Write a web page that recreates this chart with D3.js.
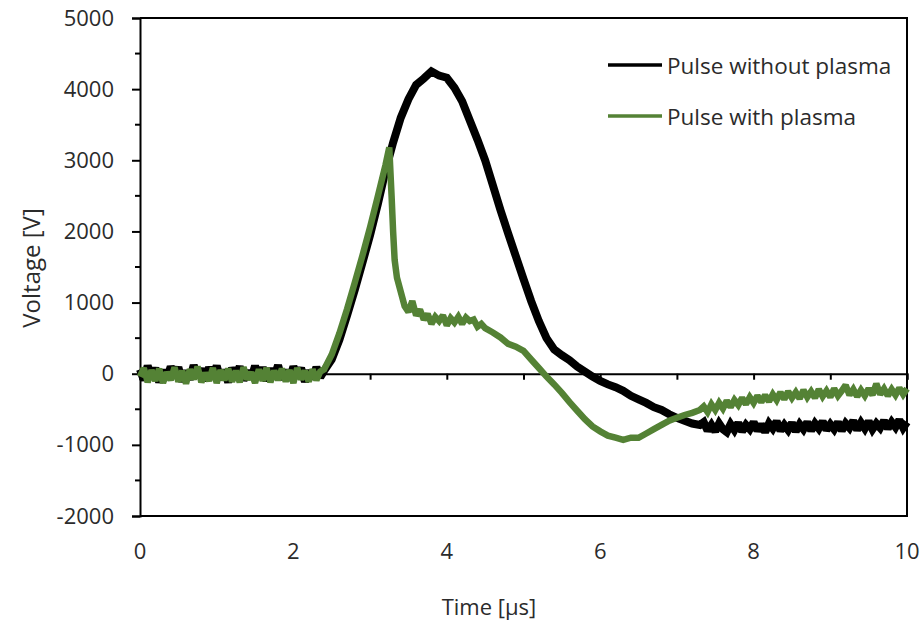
<!DOCTYPE html>
<html>
<head>
<meta charset="utf-8">
<script src="https://cdn.jsdelivr.net/npm/d3@7"></script>
<style>
  html, body { margin: 0; padding: 0; background: #fff; }
  svg { display: block; }
  text { font-family: "Open Sans", "Liberation Sans", sans-serif; fill: #2b2b2b; }
</style>
</head>
<body>
<svg id="chart" width="923" height="626"></svg>
<script>
// ---------- data ----------
const seriesNames = ["Pulse without plasma", "Pulse with plasma"];

// sampling grid helper (time axis only)
const grid = (start, step, n) => d3.range(n).map(i => +(start + i * step).toFixed(2));

// --- Pulse without plasma ---
// baseline 0 .. 2.35 µs (step 0.05)
const voltNoPlasmaBase = [
  60,-90,110,-40,80,-120,50,-70,100,-30,
  90,-110,40,-80,120,-50,70,-100,90,-40,
  110,-80,50,-120,80,-30,100,-90,40,-70,
  110,-60,90,-100,70,-40,120,-80,50,-90,
  100,-30,80,-110,40,-70,90,-50
];
// pulse 2.4 .. 7.3 µs (step 0.1)
const voltNoPlasmaPulse = [
  40,200,480,820,1180,1560,1950,2380,2850,3250,
  3600,3860,4060,4150,4250,4190,4160,4020,3830,3560,
  3290,3000,2650,2300,1970,1650,1330,1020,740,500,
  340,260,190,100,30,-40,-100,-150,-190,-240,
  -310,-360,-410,-470,-510,-570,-620,-660,-700,-720
];
// tail 7.35 .. 10 µs (step 0.05)
const voltNoPlasmaTail = [
  -680,-800,-720,-810,-700,-780,-820,-710,-790,-690,
  -810,-720,-780,-680,-800,-710,-820,-700,-770,-670,
  -800,-720,-790,-690,-810,-710,-780,-680,-800,-700,
  -770,-670,-790,-710,-780,-680,-800,-700,-760,-660,
  -790,-690,-770,-670,-780,-700,-760,-660,-770,-680,
  -750,-650,-760,-680
];

// --- Pulse with plasma ---
const voltPlasmaBase = [
  -40,80,-120,50,-100,70,-130,20,-90,90,
  -110,40,-140,60,-80,100,-120,10,-100,80,
  -130,50,-90,70,-110,40,-120,90,-80,20,
  -130,60,-100,80,-120,40,-90,70,-110,50,
  -130,80,-80,40,-110,60,-90,30
];
const timePlasmaPulse = [
  2.4,2.5,2.6,2.7,2.8,2.9,3.0,3.1,3.2,
  3.25,3.28,3.3,3.32,3.35,3.4,3.45,3.5,3.55,3.6,
  3.65,3.7,3.75,3.8,3.85,3.9,3.95,4.0,4.05,4.1,
  4.15,4.2,4.25,4.3,4.35,4.4,4.45,4.5,
  4.6,4.7,4.8,4.9,5.0,5.1,5.2,5.3,5.4,5.5,
  5.6,5.7,5.8,5.9,6.0,6.1,6.2,6.3,6.4,6.5,
  6.6,6.7,6.8,6.9,7.0,7.1,7.2,7.3
];
const voltPlasmaPulse = [
  60,270,570,910,1280,1660,2060,2490,2930,
  3180,2500,2000,1600,1350,1150,950,870,1020,820,
  900,760,840,700,800,740,820,680,780,720,
  800,700,790,740,760,660,700,640,
  580,510,420,380,320,200,80,-40,-150,-270,
  -400,-520,-640,-740,-810,-870,-900,-930,-900,-900,
  -840,-780,-720,-660,-620,-580,-550,-510
];
const voltPlasmaTail = [
  -460,-540,-430,-510,-410,-490,-380,-470,-370,-440,
  -340,-430,-330,-410,-310,-400,-300,-390,-290,-370,
  -260,-360,-250,-340,-260,-350,-230,-330,-250,-340,
  -220,-320,-240,-330,-210,-310,-240,-160,-300,-220,
  -320,-230,-310,-210,-300,-140,-290,-210,-310,-220,
  -300,-200,-290,-210
];

const xTickLabels = [0, 2, 4, 6, 8, 10];
const yTickLabels = [5000, 4000, 3000, 2000, 1000, 0, -1000, -2000];
const xTitle = "Time [µs]";
const yTitle = "Voltage [V]";

// assemble series
const tBase = grid(0, 0.05, 48), tPulse = grid(2.4, 0.1, 50), tTail = grid(7.35, 0.05, 54);
const timeNoPlasma = tBase.concat(tPulse, tTail);
const voltNoPlasma = voltNoPlasmaBase.concat(voltNoPlasmaPulse, voltNoPlasmaTail);
const timePlasma = tBase.concat(timePlasmaPulse, tTail);
const voltPlasma = voltPlasmaBase.concat(voltPlasmaPulse, voltPlasmaTail);

// ---------- layout ----------
const svg = d3.select("#chart");
const L = 140, R = 907, T = 18, B = 516;
const x = d3.scaleLinear().domain([0, 10]).range([L, R]);
const y = d3.scaleLinear().domain([-2000, 5000]).range([B, T]);
const colors = ["#000000", "#548235"];

// plot border (top, right, bottom)
svg.append("path")
  .attr("d", `M${L},${T}H${R}V${B}H${L}`)
  .attr("fill", "none").attr("stroke", "#000").attr("stroke-width", 2);

// left axis with major + minor ticks
const yAxis = d3.axisLeft(y).tickValues(yTickLabels).tickSize(8).tickPadding(18)
  .tickFormat(d => String(d));
const gy = svg.append("g").attr("transform", `translate(${L},0)`).call(yAxis);
gy.select(".domain").attr("stroke-width", 2);
gy.selectAll(".tick line").attr("stroke-width", 2);
gy.selectAll(".tick text").style("font-size", "22px").attr("fill", "#2b2b2b")
  .style("font-family", '"Open Sans", sans-serif');
const minorY = d3.range(-1500, 5000, 1000);
svg.append("g").selectAll("line").data(minorY).join("line")
  .attr("x1", L - 5).attr("x2", L).attr("y1", d => y(d)).attr("y2", d => y(d))
  .attr("stroke", "#000").attr("stroke-width", 2);

// x axis at zero line with ticks every 1 µs; labels at the bottom
const xAxis = d3.axisBottom(x).tickValues(d3.range(0, 11, 1)).tickSize(6).tickFormat("");
const gx = svg.append("g").attr("transform", `translate(0,${y(0)})`).call(xAxis);
gx.select(".domain").attr("stroke-width", 2);
gx.selectAll(".tick line").attr("stroke-width", 2);

svg.append("g").selectAll("text").data(xTickLabels).join("text")
  .attr("x", d => x(d)).attr("y", 550).attr("text-anchor", "middle")
  .attr("dominant-baseline", "central").style("font-size", "22px").text(d => d);

// axis titles
svg.append("text").attr("x", 489).attr("y", 606).attr("text-anchor", "middle")
  .attr("dominant-baseline", "central").style("font-size", "22px").text(xTitle);
svg.append("text").attr("transform", "translate(30,268) rotate(-90)")
  .attr("text-anchor", "middle").attr("dominant-baseline", "central")
  .style("font-size", "24px").text(yTitle);

// lines
const line = d3.line().x(d => x(d[0])).y(d => y(d[1])).curve(d3.curveLinear);
const dataNo = timeNoPlasma.map((t, i) => [t, voltNoPlasma[i]]);
const dataPl = timePlasma.map((t, i) => [t, voltPlasma[i]]);

svg.append("path").datum(dataNo).attr("d", line)
  .attr("fill", "none").attr("stroke", colors[0]).attr("stroke-width", 8)
  .attr("stroke-linejoin", "miter").attr("stroke-miterlimit", 2);
svg.append("path").datum(dataPl).attr("d", line)
  .attr("fill", "none").attr("stroke", colors[1]).attr("stroke-width", 6.5)
  .attr("stroke-linejoin", "miter").attr("stroke-miterlimit", 2);

// legend
const legY = [65, 116];
const leg = svg.append("g").selectAll("g").data(seriesNames).join("g")
  .attr("transform", (d, i) => `translate(608,${legY[i]})`);
leg.append("line").attr("x1", 0).attr("x2", 54).attr("y1", 0).attr("y2", 0)
  .attr("stroke", (d, i) => colors[i]).attr("stroke-width", 3.5);
leg.append("text").attr("x", 59).attr("y", 0).attr("dominant-baseline", "central")
  .style("font-size", "22.5px").text(d => d);
</script>
</body>
</html>
